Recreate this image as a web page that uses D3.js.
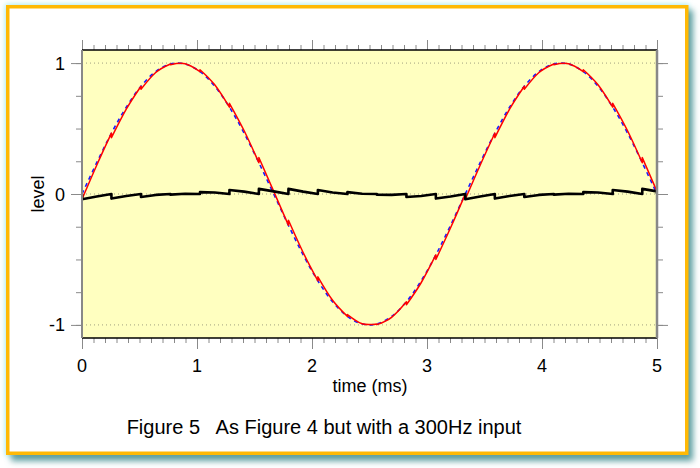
<!DOCTYPE html>
<html>
<head>
<meta charset="utf-8">
<script src="https://cdn.jsdelivr.net/npm/d3@7"></script>
<style>
  html, body { margin: 0; padding: 0; background: #ffffff; }
  svg { display: block; }
  text { font-family: "Liberation Sans", Arial, Helvetica, sans-serif; fill: #000; }
</style>
</head>
<body>
<svg id="chart" width="700" height="468"></svg>
<script>
// ---- data ----
// sample instants (ms): segment boundaries and their midpoints
const timeMs = [0, 0.128, 0.256, 0.385, 0.513, 0.641, 0.769, 0.897, 1.026, 1.154,
  1.282, 1.410, 1.538, 1.667, 1.795, 1.923, 2.051, 2.179, 2.308, 2.436,
  2.564, 2.692, 2.821, 2.949, 3.077, 3.205, 3.333, 3.462, 3.590, 3.718,
  3.846, 3.974, 4.103, 4.231, 4.359, 4.487, 4.615, 4.744, 4.872, 5.0];
// 300 Hz input (blue dashed)
const inputLevel = [0, 0.239, 0.465, 0.663, 0.823, 0.935, 0.993, 0.993, 0.935, 0.823,
  0.663, 0.465, 0.239, 0, -0.239, -0.465, -0.663, -0.823, -0.935, -0.993,
  -0.993, -0.935, -0.823, -0.663, -0.465, -0.239, 0, 0.239, 0.465, 0.663,
  0.823, 0.935, 0.993, 0.993, 0.935, 0.823, 0.663, 0.465, 0.239, 0];
// error (black) arriving at each instant, and leaving it (after a jump)
const errorBefore = [0, -0.019, 0, -0.015, 0, -0.007, 0, 0.002, 0, 0.011,
  0, 0.018, 0, 0.020, 0, 0.018, 0, 0.011, 0, 0.002,
  0, -0.007, 0, -0.015, 0, -0.019, 0, -0.019, 0, -0.015,
  0, -0.007, 0, 0.002, 0, 0.011, 0, 0.018, 0, 0.020];
const errorAfter = [-0.040, -0.019, -0.035, -0.015, -0.023, -0.007, -0.005, 0.002, 0.014, 0.011,
  0.030, 0.018, 0.039, 0.020, 0.039, 0.018, 0.030, 0.011, 0.014, 0.002,
  -0.005, -0.007, -0.023, -0.015, -0.035, -0.019, -0.040, -0.019, -0.035, -0.015,
  -0.023, -0.007, -0.005, 0.002, 0.014, 0.011, 0.030, 0.018, 0.039, 0];
const xTicks = [0, 1, 2, 3, 4, 5];
const yTicks = [-1, 0, 1];
const xLabel = "time (ms)";
const yLabel = "level";
const caption = "Figure 5   As Figure 4 but with a 300Hz input";

// ---- layout ----
const svg = d3.select("#chart");
const defs = svg.append("defs");
const fShadow = defs.append("filter").attr("id", "shadow").attr("x", "-10%").attr("y", "-10%").attr("width", "120%").attr("height", "120%");
fShadow.append("feGaussianBlur").attr("stdDeviation", 3);
const fGlow = defs.append("filter").attr("id", "glow").attr("x", "-10%").attr("y", "-10%").attr("width", "120%").attr("height", "120%");
fGlow.append("feGaussianBlur").attr("stdDeviation", 2.5);

// frame with glow + shadow
svg.append("rect").attr("x", 5).attr("y", 4).attr("width", 684).attr("height", 452)
  .attr("fill", "#b4f2f2").attr("filter", "url(#glow)");
svg.append("rect").attr("x", 11).attr("y", 10).attr("width", 682).attr("height", 451)
  .attr("fill", "#5f9fa0").attr("filter", "url(#shadow)");
svg.append("rect").attr("x", 7.75).attr("y", 6.75).attr("width", 679).attr("height", 446.5)
  .attr("fill", "#ffffff").attr("stroke", "#ffb905").attr("stroke-width", 3.5);

const x = d3.scaleLinear().domain([0, 5]).range([82, 657]);
const y = d3.scaleLinear().domain([-1.1, 1.1]).range([338, 50]);
const [x0, x1] = x.range();
const [yb, yt] = y.range();

// plot background
svg.append("rect").attr("x", x0).attr("y", yt).attr("width", x1 - x0).attr("height", yb - yt)
  .attr("fill", "#ffffc0");

// dotted reference lines
svg.append("g").selectAll("line").data(yTicks).join("line")
  .attr("x1", x0).attr("x2", x1).attr("y1", d => y(d)).attr("y2", d => y(d))
  .attr("stroke", "#a0a080").attr("stroke-width", 1).attr("stroke-dasharray", "1,3");

// axes (ticks)
const tickCol = "#8a8a8a";
function styleAxis(g) {
  g.select(".domain").remove();
  g.selectAll(".tick line").attr("stroke", tickCol).attr("stroke-width", 1);
  g.selectAll("text").remove();
}
const xMinor = d3.range(0, 51).map(i => i / 10);
const yMinor = d3.range(-4, 5).map(i => i / 4);
svg.append("g").attr("transform", `translate(0,${yt})`)
  .call(d3.axisTop(x).tickValues(xMinor).tickSize(5)).call(styleAxis);
svg.append("g").attr("transform", `translate(0,${yt})`)
  .call(d3.axisTop(x).tickValues(xTicks).tickSize(10)).call(styleAxis);
svg.append("g").attr("transform", `translate(0,${yb})`)
  .call(d3.axisBottom(x).tickValues(xMinor).tickSize(5)).call(styleAxis);
svg.append("g").attr("transform", `translate(0,${yb})`)
  .call(d3.axisBottom(x).tickValues(xTicks).tickSize(11)).call(styleAxis);
svg.append("g").attr("transform", `translate(${x0},0)`)
  .call(d3.axisLeft(y).tickValues(yMinor).tickSize(6)).call(styleAxis);
svg.append("g").attr("transform", `translate(${x0},0)`)
  .call(d3.axisLeft(y).tickValues(yTicks).tickSize(11)).call(styleAxis);
svg.append("g").attr("transform", `translate(${x1},0)`)
  .call(d3.axisRight(y).tickValues(yMinor).tickSize(6)).call(styleAxis);
svg.append("g").attr("transform", `translate(${x1},0)`)
  .call(d3.axisRight(y).tickValues(yTicks).tickSize(11)).call(styleAxis);

// tick labels
svg.append("g").selectAll("text").data(xTicks).join("text")
  .attr("x", d => x(d)).attr("y", yb + 34).attr("text-anchor", "middle")
  .attr("font-size", 18).text(d => d);
svg.append("g").selectAll("text").data(yTicks).join("text")
  .attr("x", x0 - 17).attr("y", d => y(d) + 6.5).attr("text-anchor", "end")
  .attr("font-size", 18).text(d => d);

// series
const pts = timeMs.map((t, i) => ({ t, v: inputLevel[i], eb: errorBefore[i], ea: errorAfter[i] }));
const inputPts = pts.map(p => [p.t, p.v]);
const errorPts = pts.flatMap(p => p.eb === p.ea ? [[p.t, p.eb]] : [[p.t, p.eb], [p.t, p.ea]]);
// output (red) = input + error, split into smooth pieces between jumps
const outputPieces = [];
let cur = [];
pts.forEach(p => {
  if (p.eb === p.ea) { cur.push([p.t, p.v + p.eb]); }
  else {
    if (cur.length) { cur.push([p.t, p.v + p.eb]); outputPieces.push(cur); }
    cur = [[p.t, p.v + p.ea]];
  }
});
if (cur.length > 1) outputPieces.push(cur);

const clipId = "plotclip";
defs.append("clipPath").attr("id", clipId).append("rect")
  .attr("x", x0).attr("y", yt).attr("width", x1 - x0).attr("height", yb - yt);
const plot = svg.append("g").attr("clip-path", `url(#${clipId})`);

const smooth = d3.line().x(d => x(d[0])).y(d => y(d[1])).curve(d3.curveCatmullRom.alpha(0.5));
const straight = d3.line().x(d => x(d[0])).y(d => y(d[1]));

plot.append("path").attr("d", smooth(inputPts)).attr("fill", "none")
  .attr("stroke", "#1a1aff").attr("stroke-width", 1.6).attr("stroke-dasharray", "4,4");
const outD = outputPieces.map((piece, i) => {
  const d = d3.line().x(q => x(q[0])).y(q => y(q[1])).curve(d3.curveNatural)(piece);
  return i === 0 ? d : "L" + d.slice(1);
}).join("");
plot.append("path").attr("d", outD).attr("fill", "none")
  .attr("stroke", "#ff0000").attr("stroke-width", 1.5).attr("stroke-linejoin", "round");
plot.append("path").attr("d", straight(errorPts)).attr("fill", "none")
  .attr("stroke", "#000").attr("stroke-width", 2.6).attr("stroke-linejoin", "round");

// plot border
svg.append("line").attr("x1", x0).attr("x2", x1).attr("y1", yt).attr("y2", yt).attr("stroke", "#000").attr("stroke-width", 1.5);
svg.append("line").attr("x1", x0).attr("x2", x1).attr("y1", yb).attr("y2", yb).attr("stroke", "#000").attr("stroke-width", 1.5);
svg.append("line").attr("x1", x0).attr("x2", x0).attr("y1", yt).attr("y2", yb).attr("stroke", "#888").attr("stroke-width", 2);
svg.append("line").attr("x1", x1).attr("x2", x1).attr("y1", yt).attr("y2", yb).attr("stroke", "#888").attr("stroke-width", 2.5);

// axis titles + caption
svg.append("text").attr("x", 370).attr("y", 392).attr("text-anchor", "middle")
  .attr("font-size", 18).text(xLabel);
svg.append("text").attr("transform", `translate(44,${(yt + yb) / 2}) rotate(-90)`)
  .attr("text-anchor", "middle").attr("font-size", 18).text(yLabel);
svg.append("text").attr("x", 324).attr("y", 434).attr("text-anchor", "middle")
  .attr("font-size", 20).style("white-space", "pre").text(caption);
</script>
</body>
</html>
